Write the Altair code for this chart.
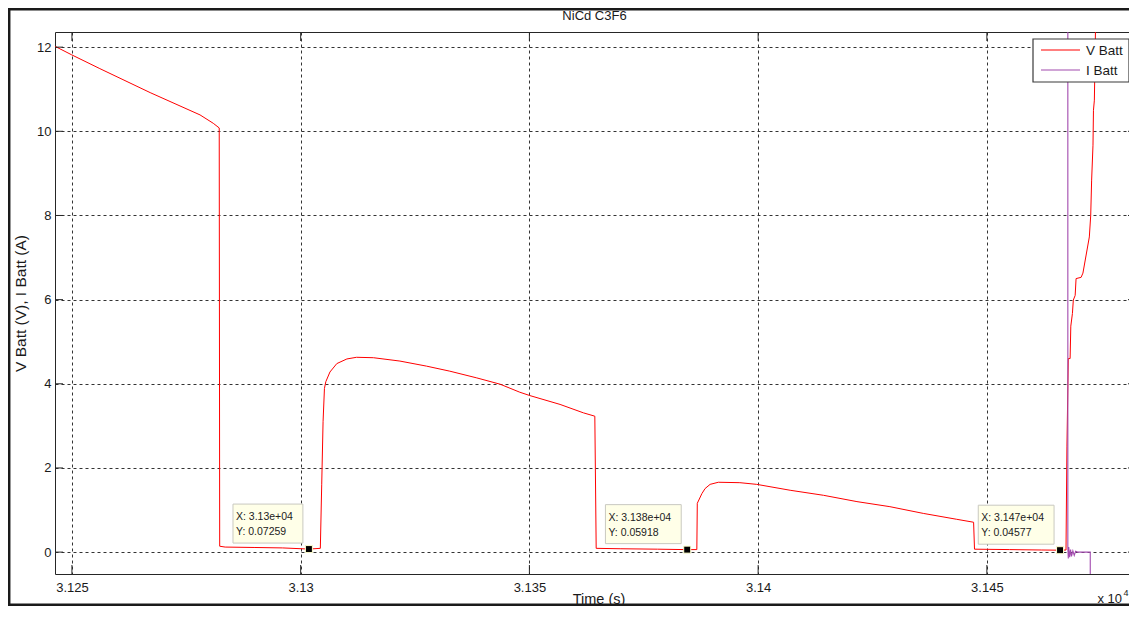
import altair as alt
import pandas as pd

# ---------------- data ----------------
title_text = "NiCd C3F6"
x_title = "Time (s)"
y_title = "V Batt (V), I Batt (A)"
exp_text = "x 10"
exp_sup = "4"
series_names = ["V Batt", "I Batt"]
series_colors = ["#ff0000", "#a24aae"]

v_time = [31246.3, 31249.9, 31256.1, 31267.1, 31278.0, 31280.9, 31282.2,
          31282.3, 31283.5, 31290.0, 31296.0, 31301.8, 31304.3,
          31304.6, 31304.9, 31305.2, 31305.5, 31306.4, 31307.9, 31310.1, 31312.2,
          31315.9, 31321.7, 31327.5, 31332.6, 31338.5, 31343.6, 31347.9, 31350.1,
          31356.7, 31361.8, 31364.3,
          31364.6, 31370.0, 31378.0, 31384.5, 31386.6,
          31386.7, 31387.7, 31388.4, 31389.5, 31391.3, 31396.0, 31399.7, 31407.0,
          31414.3, 31421.6, 31428.8, 31436.1, 31443.4, 31447.1,
          31447.3, 31455.0, 31462.0, 31466.0, 31467.3,
          31467.5, 31467.8, 31468.2, 31468.35, 31468.7, 31468.9, 31469.3, 31469.5,
          31470.6, 31471.0, 31471.7, 31472.4, 31472.7, 31472.9, 31473.2, 31473.3,
          31473.5, 31473.9]
v_volt = [12.02, 11.82, 11.49, 10.92, 10.39, 10.19, 10.08,
          0.14, 0.12, 0.11, 0.10, 0.07259, 0.09,
          1.6, 3.1, 3.89, 4.05, 4.28, 4.48, 4.59, 4.63,
          4.62, 4.54, 4.42, 4.30, 4.14, 3.99, 3.80, 3.72,
          3.51, 3.31, 3.23,
          0.09, 0.08, 0.07, 0.05918, 0.06,
          1.16, 1.39, 1.51, 1.61, 1.66, 1.65, 1.61, 1.47,
          1.35, 1.20, 1.08, 0.92, 0.78, 0.71,
          0.07, 0.06, 0.05, 0.04577, 0.05,
          2.5, 4.6, 4.6, 5.37, 5.67, 5.99, 6.1, 6.5,
          6.53, 6.63, 7.06, 7.49, 8.0, 8.84, 9.67, 10.5,
          10.74, 13.5]

i_time = [31467.7, 31467.7, 31467.8, 31467.9, 31468.1, 31468.3, 31468.5,
          31468.8, 31469.1, 31469.4, 31469.8, 31472.6, 31472.6]
i_amp = [14.0, 0.1, -0.15, 0.12, -0.12, 0.06, -0.1,
         0.03, -0.08, 0.02, 0.0, 0.0, -1.5]

tip_time = [31301.8, 31384.5, 31466.0]
tip_value = [0.07259, 0.05918, 0.04577]
tip_xlabel = ["3.13e+04", "3.138e+04", "3.147e+04"]
tip_ylabel = ["0.07259", "0.05918", "0.04577"]

x_ticks = [31250, 31300, 31350, 31400, 31450]
y_ticks = [0, 2, 4, 6, 8, 10, 12]
x_domain = [31246.3, 31482.6]
y_domain = [-0.52, 12.36]

# ---------------- layout ----------------
W, H = 1081, 542
FONT = "Liberation Sans"
TXT = "#1a1a1a"

xs = alt.Scale(domain=x_domain, nice=False, zero=False)
ys = alt.Scale(domain=y_domain, nice=False, zero=False)
cs = alt.Scale(domain=series_names, range=series_colors)

v_df = pd.DataFrame({"t": v_time, "val": v_volt, "series": series_names[0],
                     "idx": list(range(len(v_time)))})
i_df = pd.DataFrame({"t": i_time, "val": i_amp, "series": series_names[1],
                     "idx": list(range(len(i_time)))})

x_axis = alt.Axis(values=x_ticks, labelExpr="format(datum.value/10000, '.4~g')",
                  grid=True, gridDash=[3, 3], gridColor="#333333", gridWidth=1,
                  ticks=False, domain=False, labelFontSize=13, labelColor=TXT,
                  labelFont=FONT, labelPadding=7, labelFlush=False, labelOverlap=False,
                  title=x_title, titleFont=FONT, titleFontSize=14.5, titleFontWeight="normal",
                  titleColor=TXT, titleX=W / 2 + 3, titleY=25, titleBaseline="middle",
                  titleAlign="center")
y_axis = alt.Axis(values=y_ticks, grid=True, gridDash=[3, 3], gridColor="#333333",
                  gridWidth=1, ticks=False, domain=False, labelFontSize=13,
                  labelColor=TXT, labelFont=FONT, labelPadding=4, labelFlush=False,
                  labelOverlap=False,
                  title=y_title, titleFont=FONT, titleFontSize=15.5, titleFontWeight="normal",
                  titleColor=TXT, titleX=-35, titleY=H / 2, titleAngle=-90,
                  titleBaseline="middle", titleAlign="center")


def X(field):
    return alt.X(field, scale=xs, axis=x_axis, title=x_title)


def Y(field):
    return alt.Y(field, scale=ys, axis=y_axis, title=y_title)


v_line = alt.Chart(v_df).mark_line(clip=True, strokeWidth=1).encode(
    x=X("t:Q"), y=Y("val:Q"),
    color=alt.Color("series:N", scale=cs, legend=None),
    order="idx:Q",
)
i_line = alt.Chart(i_df).mark_line(clip=True, strokeWidth=1.1).encode(
    x=X("t:Q"), y=Y("val:Q"),
    color=alt.Color("series:N", scale=cs, legend=None),
    order="idx:Q",
)

# inward ticks (MATLAB style), on all four sides
xt_df = pd.DataFrame({"t": x_ticks})
yt_df = pd.DataFrame({"val": y_ticks})
tick_col = "#262626"
xt_bottom = alt.Chart(xt_df).mark_rule(color=tick_col, strokeWidth=1).encode(
    x=X("t:Q"), y=alt.value(H), y2=alt.value(H - 9))
xt_top = alt.Chart(xt_df).mark_rule(color=tick_col, strokeWidth=1).encode(
    x=X("t:Q"), y=alt.value(0), y2=alt.value(9))
yt_left = alt.Chart(yt_df).mark_rule(color=tick_col, strokeWidth=1).encode(
    y=Y("val:Q"), x=alt.value(0), x2=alt.value(8))
yt_right = alt.Chart(yt_df).mark_rule(color=tick_col, strokeWidth=1).encode(
    y=Y("val:Q"), x=alt.value(W), x2=alt.value(W - 8))

# data tips
ppu = W / (x_domain[1] - x_domain[0])
tips_df = pd.DataFrame({"t": tip_time, "val": tip_value,
                        "xl": ["X: " + s for s in tip_xlabel],
                        "yl": ["Y: " + s for s in tip_ylabel]})
tips = alt.Chart(tips_df).transform_calculate(
    left=f"datum.t - (5.9*length(datum.xl) + 5)/{ppu}")
tip_box = tips.mark_rect(fill="#ffffe8", stroke="#c9c9c0", strokeWidth=1,
                         xOffset=-6, x2Offset=-6, yOffset=-6, y2Offset=-45).encode(
    x=X("left:Q"), x2="t:Q", y=Y("val:Q"), y2="val:Q")
tip_tx = tips.mark_text(align="left", baseline="middle", font=FONT, fontSize=10.5,
                        dx=-3, dy=-32, color="#222222").encode(
    x=X("left:Q"), y=Y("val:Q"), text="xl:N")
tip_ty = tips.mark_text(align="left", baseline="middle", font=FONT, fontSize=10.5,
                        dx=-3, dy=-17, color="#222222").encode(
    x=X("left:Q"), y=Y("val:Q"), text="yl:N")
tip_mk = tips.mark_square(size=49, color="black", opacity=1, filled=True,
                          stroke="#ffffcc", strokeWidth=1).encode(
    x=X("t:Q"), y=Y("val:Q"))

# legend box (MATLAB style, top right)
one = pd.DataFrame({"a": [0]})
leg_box = alt.Chart(one).mark_rect(fill="white", stroke="#3a3a3a", strokeWidth=1.2).encode(
    x=alt.value(978), x2=alt.value(1074), y=alt.value(7), y2=alt.value(50))
leg_layers = [leg_box]
for k, (nm, col) in enumerate(zip(series_names, series_colors)):
    yy = 18 + 20 * k
    leg_layers.append(alt.Chart(one).mark_rule(color=col, strokeWidth=1.2).encode(
        x=alt.value(986), x2=alt.value(1025), y=alt.value(yy)))
    leg_layers.append(alt.Chart(one).mark_text(
        text=nm, align="left", baseline="middle", font=FONT, fontSize=13.5,
        color=TXT).encode(x=alt.value(1031), y=alt.value(yy + 1)))

# title and exponent
title_mk = alt.Chart(one).mark_text(text=title_text, align="center", baseline="middle",
                                    font=FONT, fontSize=13, color=TXT).encode(
    x=alt.value(539.5), y=alt.value(-16))
exp_mk = alt.Chart(one).mark_text(text=exp_text, align="right", baseline="alphabetic",
                                  font=FONT, fontSize=13, color=TXT).encode(
    x=alt.value(1067), y=alt.value(571))
sup_mk = alt.Chart(one).mark_text(text=exp_sup, align="left", baseline="alphabetic",
                                  font=FONT, fontSize=9, color=TXT).encode(
    x=alt.value(1068.5), y=alt.value(564))

# outer figure frame
frame_col = "#1a1a1a"
fr_left = alt.Chart(one).mark_rule(color=frame_col, strokeWidth=2.5).encode(
    x=alt.value(-45.8), y=alt.value(-24), y2=alt.value(574))
fr_top = alt.Chart(one).mark_rule(color=frame_col, strokeWidth=2.5).encode(
    x=alt.value(-47), x2=alt.value(W + 10), y=alt.value(-22.8))
fr_bottom = alt.Chart(one).mark_rule(color=frame_col, strokeWidth=2.5).encode(
    x=alt.value(-47), x2=alt.value(W + 10), y=alt.value(572.8))

chart = alt.layer(
    v_line, i_line, xt_bottom, xt_top, yt_left, yt_right,
    tip_box, tip_tx, tip_ty, tip_mk,
    *leg_layers, title_mk, exp_mk, sup_mk, fr_left, fr_top, fr_bottom,
).properties(
    width=W, height=H,
    autosize=alt.AutoSizeParams(type="none"),
    padding={"left": 47, "top": 24, "right": -7, "bottom": 32},
    background="white",
).configure_view(stroke="#262626", strokeWidth=1)

chart.save("out.html", embed_options={"renderer": "svg", "actions": False})
